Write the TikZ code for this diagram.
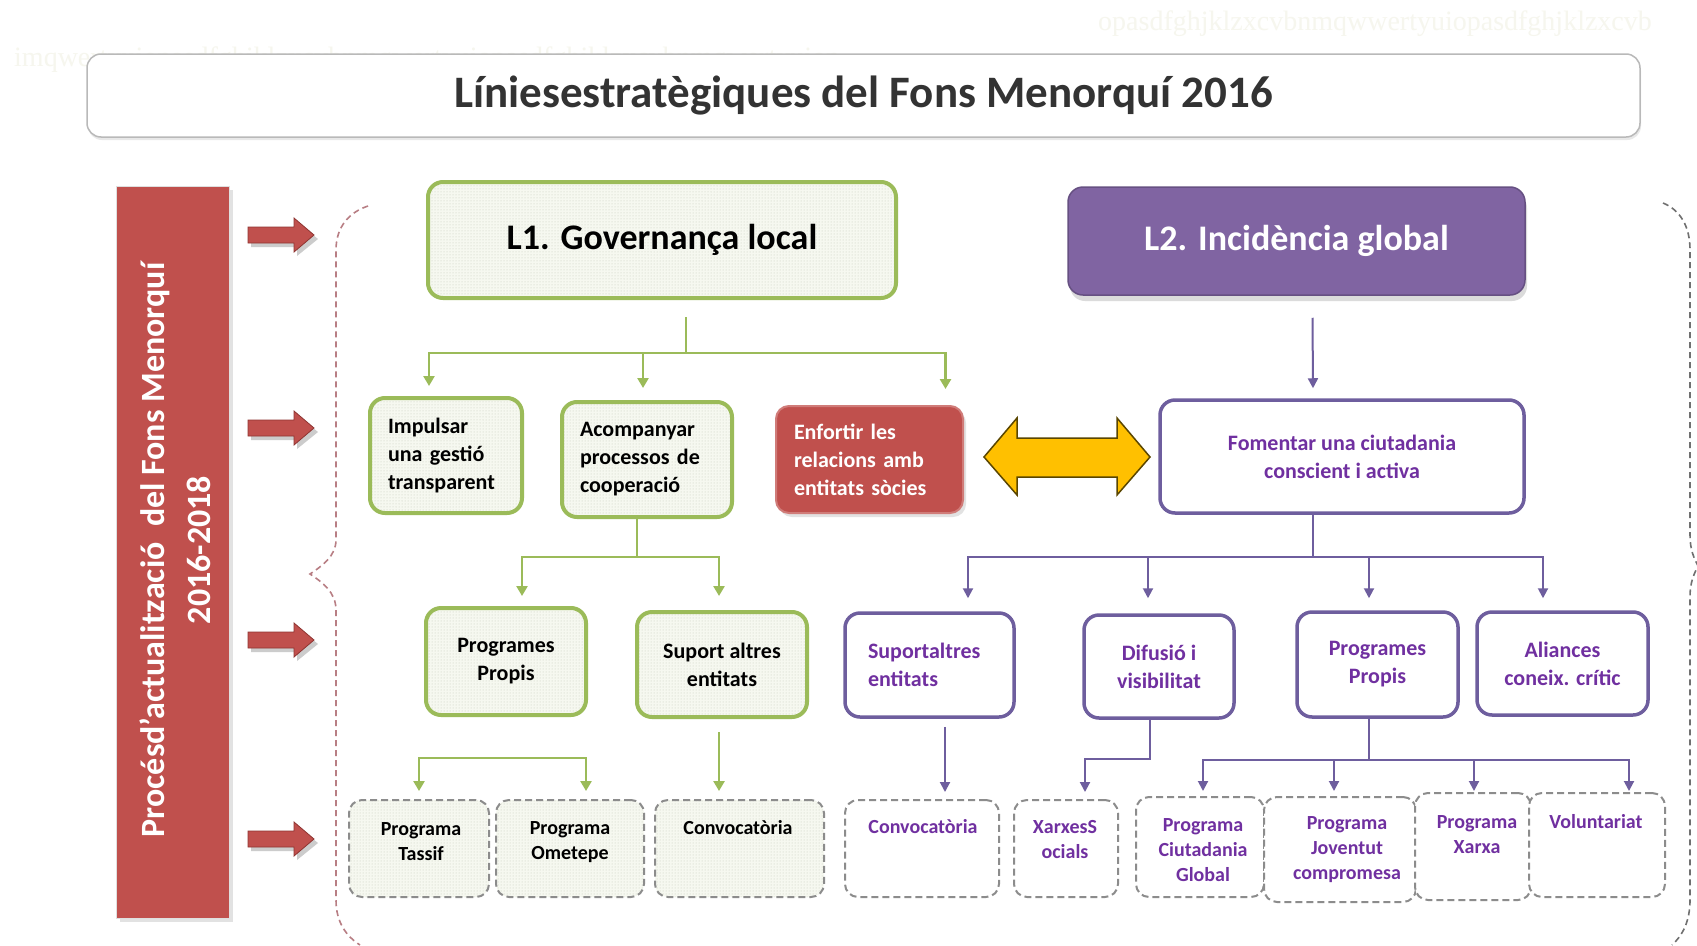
\documentclass[tikz,border=0pt]{standalone}
\usepackage{fontspec}
\setmainfont{Carlito}
\newfontfamily\ghostfont{Liberation Serif}
\usetikzlibrary{arrows.meta,patterns,shadows}
\definecolor{gborder}{HTML}{9BBB59}
\definecolor{gfill}{HTML}{F6F8F0}
\definecolor{dotc}{HTML}{C5CABB}
\definecolor{redc}{HTML}{C0504D}
\definecolor{redd}{HTML}{8E3431}
\definecolor{purc}{HTML}{8064A2}
\definecolor{purline}{HTML}{6E5E9E}
\definecolor{purtext}{HTML}{7030A0}
\definecolor{dashc}{HTML}{8C8C8C}
\definecolor{yel}{HTML}{FFC000}
\definecolor{yeld}{HTML}{5A4600}
\definecolor{bracel}{HTML}{B87E84}
\definecolor{bracer}{HTML}{707070}
\definecolor{ghost}{HTML}{F6F6EE}
\definecolor{titletext}{HTML}{333333}
\begin{document}
\begin{tikzpicture}[x=1pt,y=-1pt,
  midfont/.style={font=\bfseries\fontsize{22}{28}\selectfont},
  smallfont/.style={font=\bfseries\fontsize{20}{25}\selectfont},
  bigfont/.style={font=\bfseries\fontsize{36}{40}\selectfont},
  greenbox/.style={draw=gborder, line width=4pt, rounded corners=15pt, preaction={fill=gfill}, pattern=dots, pattern color=dotc, inner sep=0pt, align=center, text=black},
  purbox/.style={draw=purline, line width=3.5pt, rounded corners=15pt, fill=white, inner sep=0pt, align=center, text=purtext},
  dgbox/.style={draw=dashc, line width=2pt, dash pattern=on 7pt off 4pt, rounded corners=13pt, preaction={fill=gfill}, pattern=dots, pattern color=dotc, inner sep=0pt},
  dpbox/.style={draw=dashc, line width=2pt, dash pattern=on 7pt off 4pt, rounded corners=13pt, fill=white, inner sep=0pt},
  gtext/.style={smallfont, text=black, align=center, inner sep=0pt},
  ptext/.style={smallfont, text=purtext, align=center, inner sep=0pt},
  gline/.style={draw=gborder, line width=2.5pt},
  garrow/.style={gline, -{Triangle[width=11pt,length=10pt]}},
  pline/.style={draw=purline, line width=2pt},
  parrow/.style={pline, -{Triangle[width=10pt,length=10pt]}},
  redarrow/.style={fill=redc, draw=redd, line width=0.8pt},
  bracestyle/.style={line width=1.6pt, dash pattern=on 6pt off 4pt}
]
\useasboundingbox (0,0) rectangle (1697,945);
\fill[white] (0,0) rectangle (1697,945);

% faint ghost text
\node[anchor=west, inner sep=0pt, text=ghost, font=\ghostfont\fontsize{28}{30}\selectfont] (ghost1) at (1098,24) {opasdfghjklzxcvbnmqwwertyuiopasdfghjklzxcvb};
\node[anchor=west, inner sep=0pt, text=ghost, font=\ghostfont\fontsize{28}{30}\selectfont] (ghost2) at (14,60) {imqwertyuiopasdfghjklzxcvbnmqwertyuiopasdfghjklzxcvbnmqwertyuiop};

% title
\node[draw=gray!55, line width=1.5pt, fill=white, rounded corners=14pt, minimum width=1553pt, minimum height=83pt,
      font=\bfseries\fontsize{45}{50}\selectfont, text=titletext,
      drop shadow={shadow xshift=1pt, shadow yshift=-3pt, fill=gray!35}] (title) at (863.5,95.5) {Líniesestratègiques del Fons Menorquí 2016};

% left red bar
\node[fill=redc, draw=gray!25, line width=1pt, minimum width=113pt, minimum height=732pt, inner sep=0pt,
      drop shadow={shadow xshift=4pt, shadow yshift=-4pt, fill=gray!45}] (bar) at (172.5,552) {};
\node[rotate=90, text=white, align=center, inner sep=0pt, font=\bfseries\fontsize{34}{46}\selectfont] (bartext) at (175,550)
  {Procésd'actualització\ \ del Fons Menorquí\\2016-2018};

% red block arrows
\foreach \yy in {235,428,640,839}{
  \fill[gray!40] (251,\yy+4-8) -- (297,\yy+4-8) -- (297,\yy+4-17) -- (318,\yy+4) -- (297,\yy+4+17) -- (297,\yy+4+8) -- (251,\yy+4+8) -- cycle;
  \draw[redarrow] (248,\yy-8) -- (294,\yy-8) -- (294,\yy-17) -- (314,\yy) -- (294,\yy+17) -- (294,\yy+8) -- (248,\yy+8) -- cycle;
}

% braces
\draw[bracestyle, draw=bracel] (368,206) .. controls (350,212) and (336,226) .. (336,250) -- (336,540)
  .. controls (336,556) and (322,566) .. (310,574) .. controls (322,582) and (336,592) .. (336,610) -- (336,900)
  .. controls (336,922) and (346,936) .. (360,945);
\draw[bracestyle, draw=bracer] (1663,203) .. controls (1680,210) and (1690,226) .. (1690,250) -- (1690,535)
  .. controls (1690,550) and (1694,558) .. (1698,566) .. controls (1694,574) and (1690,582) .. (1690,597) -- (1690,900)
  .. controls (1690,922) and (1682,936) .. (1672,945);

% level 1
\node[greenbox, bigfont, minimum width=468pt, minimum height=116pt] (l1) at (662,240) {L1. Governança local};
\node[draw=purc!80!black, fill=purc, line width=1.5pt, rounded corners=15pt, minimum width=457pt, minimum height=108pt,
      text=white, bigfont, drop shadow={shadow xshift=2pt, shadow yshift=-6pt, fill=gray!55}] (l2) at (1296.5,241) {L2. Incidència global};

% level 2
\node[greenbox, midfont, align=left, text width=116pt, inner xsep=18pt, minimum height=115pt] (imp) at (446,455.5) {Impulsar\\una gestió\\transparent};
\node[greenbox, midfont, align=left, text width=134pt, inner xsep=18pt, minimum height=115pt] (aco) at (647,459.5) {Acompanyar\\processos de\\cooperació};
\node[fill=redc, draw=redc!75!white, line width=2pt, rounded corners=13pt, midfont, text=white, align=left,
      text width=151pt, inner xsep=18pt, inner ysep=0pt, minimum height=107pt,
      drop shadow={shadow xshift=3pt, shadow yshift=-4pt, fill=gray!45}] (enf) at (869.5,459.5) {Enfortir les\\relacions amb\\entitats sòcies};
\node[purbox, midfont, minimum width=364pt, minimum height=113pt] (fom) at (1342,456.5) {Fomentar una ciutadania\\conscient i activa};

% yellow double arrow
\draw[fill=yel, draw=yeld, line width=1.5pt] (984,457) -- (1017,418) -- (1017,438) -- (1117,438) -- (1117,418) -- (1150,457)
  -- (1117,495) -- (1117,477) -- (1017,477) -- (1017,495) -- cycle;

% level 3
\node[greenbox, midfont, minimum width=160pt, minimum height=107pt] (pp) at (506,661.5) {Programes\\Propis};
\node[greenbox, midfont, minimum width=170pt, minimum height=105pt] (sup) at (722,664.5) {Suport altres\\entitats};
\node[purbox, midfont, align=left, text width=123pt, inner xsep=23pt, minimum height=104pt] (supp) at (929.5,665) {Suportaltres\\entitats};
\node[purbox, midfont, minimum width=150pt, minimum height=103pt] (dif) at (1159,666.5) {Difusió i\\visibilitat};
\node[purbox, midfont, minimum width=161pt, minimum height=105pt] (ppp) at (1377.5,664.5) {Programes\\Propis};
\node[purbox, midfont, minimum width=171pt, minimum height=103pt] (ali) at (1562.5,663.5) {Aliances\\coneix. crític};

% level 4 boxes
\node[dgbox, minimum width=140pt, minimum height=97pt] (tas) at (419,848.5) {};
\node[dgbox, minimum width=148pt, minimum height=97pt] (ome) at (570,848.5) {};
\node[dgbox, minimum width=169pt, minimum height=97pt] (cvg) at (739.5,848.5) {};
\node[dpbox, minimum width=154pt, minimum height=97pt] (cvp) at (922,848.5) {};
\node[dpbox, minimum width=104pt, minimum height=97pt] (xar) at (1066,848.5) {};
\node[dpbox, minimum width=128pt, minimum height=100pt] (cig) at (1200,847) {};
\node[dpbox, minimum width=152pt, minimum height=105pt] (jov) at (1340,849.5) {};
\node[dpbox, minimum width=116pt, minimum height=107pt] (xxa) at (1473,846.5) {};
\node[dpbox, minimum width=136pt, minimum height=104pt] (vol) at (1597,845) {};

\node[gtext] (tast) at (421,842) {Programa\\Tassif};
\node[gtext] (omet) at (570,842) {Programa\\Ometepe};
\node[gtext] (cvgt) at (738,828) {Convocatòria};
\node[ptext] (cvpt) at (923,827) {Convocatòria};
\node[ptext] (xart) at (1065,840) {XarxesS\\ocials};
\node[ptext] (cigt) at (1203,850) {Programa\\Ciutadania\\Global};
\node[ptext] (jovt) at (1347,850) {Programa\\Joventut\\compromesa};
\node[ptext] (xxat) at (1477,835) {Programa\\Xarxa};
\node[ptext] (volt) at (1596,822) {Voluntariat};

% green connectors
\coordinate (b1) at (686,353);
\draw[gline] ([xshift=24pt,yshift=-17pt]l1.south) -- (b1);
\draw[garrow] (b1) -| ([xshift=-17pt,yshift=10pt]imp.north);
\draw[garrow] (b1) -| ([xshift=-4pt,yshift=12pt]aco.north);
\draw[garrow] (b1) -| ([xshift=76pt,yshift=16pt]enf.north);

\coordinate (b2) at (637,557);
\draw[gline] ([xshift=-10pt]aco.south) -- (b2);
\draw[garrow] (b2) -| ([xshift=16pt,yshift=10pt]pp.north);
\draw[garrow] (b2) -| ([xshift=-3pt,yshift=14pt]sup.north);

\coordinate (b3) at (502,758);
\draw[garrow] (b3) -| ([yshift=8pt]tas.north);
\draw[garrow] (b3) -| ([xshift=16pt,yshift=8pt]ome.north);

\draw[garrow] ([xshift=-3pt,yshift=-13pt]sup.south) -- ([xshift=-20.5pt,yshift=8pt]cvg.north);

% purple connectors
\draw[parrow] ([xshift=16pt,yshift=-22pt]l2.south) -- ([xshift=-29pt,yshift=10pt]fom.north);
\coordinate (b4) at (1313,557);
\draw[pline] ([xshift=-29pt]fom.south) -- (b4);
\draw[parrow] (b4) -| ([xshift=38.5pt,yshift=13pt]supp.north);
\draw[parrow] (b4) -| ([xshift=-11pt,yshift=15pt]dif.north);
\draw[parrow] (b4) -| ([xshift=-8.5pt,yshift=12pt]ppp.north);
\draw[parrow] (b4) -| ([xshift=-19.5pt,yshift=12pt]ali.north);

\draw[parrow] ([xshift=15.5pt,yshift=-8pt]supp.south) -- ([xshift=23pt,yshift=7pt]cvp.north);
\draw[parrow] ([xshift=-9pt]dif.south) -- ++(0,39) -| ([xshift=19pt,yshift=7pt]xar.north);

\coordinate (b5) at (1369,760);
\draw[pline] ([xshift=-8.5pt]ppp.south) -- (b5);
\draw[parrow] (b5) -| ([xshift=3pt,yshift=5pt]cig.north);
\draw[parrow] (b5) -| ([xshift=-6pt,yshift=5pt]jov.north);
\draw[parrow] (b5) -| ([xshift=1pt,yshift=1pt]xxa.north);
\draw[parrow] (b5) -| ([xshift=32pt,yshift=1pt]vol.north);
\end{tikzpicture}
\end{document}
